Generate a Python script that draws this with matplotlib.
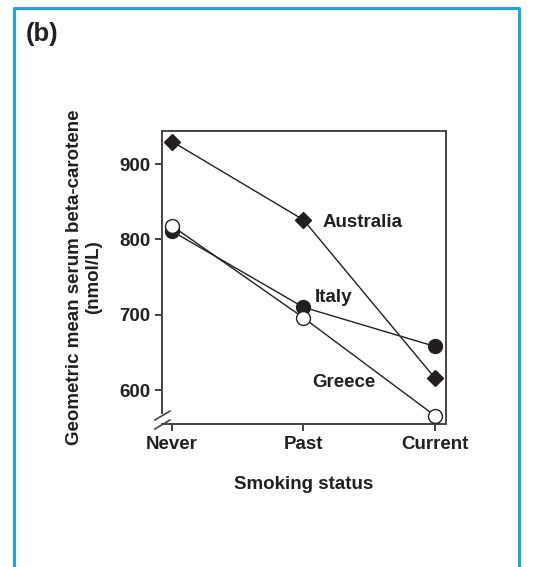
import matplotlib.pyplot as plt
from matplotlib.lines import Line2D

# data
status = ['Never', 'Past', 'Current']
australia = [930, 826, 616]
italy = [811, 710, 658]
greece = [818, 696, 566]
yticks = [600, 700, 800, 900]

ink = '#231f20'
frame_blue = '#1aa7dc'

plt.rcParams['font.family'] = ['Liberation Sans', 'DejaVu Sans']
plt.rcParams['font.weight'] = 'bold'

fig = plt.figure(figsize=(5.35, 5.67), dpi=100)
ax = fig.add_axes([0.3028, 0.2522, 0.5308, 0.5168])

x = range(len(status))
ax.plot(x, australia, color=ink, lw=1, marker='D', ms=8, mfc=ink, mec=ink, zorder=3)
ax.plot(x, italy, color=ink, lw=1, marker='o', ms=10, mfc=ink, mec=ink, zorder=3)
ax.plot(x, greece, color=ink, lw=1, marker='o', ms=10, mfc='white', mec=ink, mew=1, zorder=4)

# series labels
ax.text(1.148, 822, 'Australia', fontsize=13.5, fontweight='bold', color=ink, va='center')
ax.text(1.087, 723, 'Italy', fontsize=13.5, fontweight='bold', color=ink, va='center')
ax.text(1.065, 610, 'Greece', fontsize=13.5, fontweight='bold', color=ink, va='center')

ax.set_xlim(-0.076, 2.084)
ax.set_ylim(555, 944)
ax.set_xticks(list(x))
ax.set_xticklabels(status)
ax.set_yticks(yticks)
ax.tick_params(colors=ink, labelsize=13.5, length=5, width=1.2, direction='out')
for lab in ax.get_xticklabels() + ax.get_yticklabels():
    lab.set_fontweight('bold')

for s in ax.spines.values():
    s.set_color('#444444')
    s.set_linewidth(1.4)
ax.spines['left'].set_bounds(569, 944)

# axis break marks
for y0, y1 in [(0.0137, 0.044), (-0.017, 0.0137)]:
    ax.add_line(Line2D([-0.025, 0.028], [y0, y1], transform=ax.transAxes,
                       color='#444444', lw=1.2, clip_on=False))

ax.set_xlabel('Smoking status', fontsize=13.5, fontweight='bold', color=ink, labelpad=17)
ax.set_ylabel('Geometric mean serum beta-carotene\n(nmol/L)', fontsize=13.5,
              fontweight='bold', color=ink, labelpad=12, linespacing=1.2)

fig.text(0.049, 0.94, '(b)', fontsize=18.5, fontweight='bold', color=ink, va='center')

# blue panel frame (open at the bottom)
fx0, fx1, fy1 = 13.5 / 535, 518.5 / 535, 1 - 7.5 / 567
fig.add_artist(Line2D([fx0, fx0, fx1, fx1], [0, fy1, fy1, 0],
                      transform=fig.transFigure, color=frame_blue, lw=2.2))

fig.savefig('out.png', dpi=100)
